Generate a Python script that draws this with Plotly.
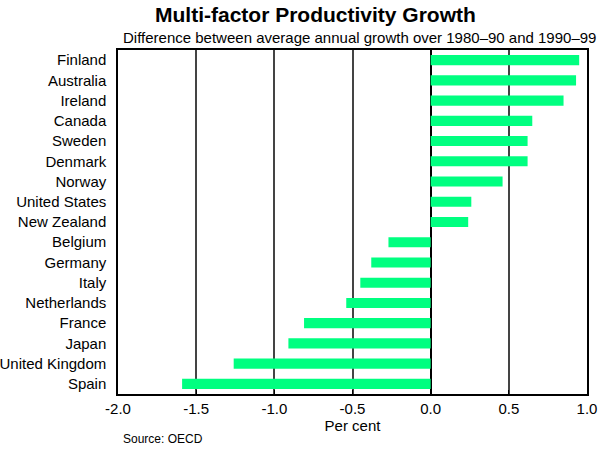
import plotly.graph_objects as go

countries = ["Finland", "Australia", "Ireland", "Canada", "Sweden", "Denmark",
             "Norway", "United States", "New Zealand", "Belgium", "Germany",
             "Italy", "Netherlands", "France", "Japan", "United Kingdom", "Spain"]
values = [0.95, 0.93, 0.85, 0.65, 0.62, 0.62, 0.46, 0.26, 0.24,
          -0.27, -0.38, -0.45, -0.54, -0.81, -0.91, -1.26, -1.59]
x_ticks = [-2.0, -1.5, -1.0, -0.5, 0.0, 0.5, 1.0]
x_tick_labels = ["-2.0", "-1.5", "-1.0", "-0.5", "0.0", "0.5", "1.0"]

FONT = "Liberation Sans, Arial, sans-serif"
W, H = 616, 451
L, R, T, B = 118, 29, 50, 57
PW, PH = W - L - R, H - T - B

fig = go.Figure(go.Bar(
    x=values, y=countries, orientation="h",
    marker=dict(color="#00FF80", line=dict(width=0)),
    width=0.5,
))

fig.update_layout(
    width=W, height=H,
    margin=dict(l=L, r=R, t=T, b=B, autoexpand=False),
    paper_bgcolor="white", plot_bgcolor="white",
    font=dict(family=FONT, size=15, color="black"),
    showlegend=False,
)

fig.update_xaxes(
    range=[-2.0, 1.0], tickvals=x_ticks, ticktext=x_tick_labels,
    showgrid=True, gridcolor="#444444", gridwidth=1.5,
    zeroline=True, zerolinecolor="black", zerolinewidth=2,
    showline=True, linecolor="black", linewidth=1.5, mirror=True,
    ticks="inside", ticklen=4, tickcolor="black",
    tickfont=dict(size=15), automargin=False,
    title=dict(text="Per cent", font=dict(size=15), standoff=2),
)
fig.update_yaxes(
    categoryorder="array", categoryarray=countries[::-1],
    range=[-0.5, len(countries) - 0.5],
    showgrid=False, zeroline=False,
    showline=True, linecolor="black", linewidth=1.5, mirror=True,
    ticks="", tickfont=dict(size=15), ticklabelstandoff=7, automargin=False,
)

fig.add_annotation(text="<b>Multi-factor Productivity Growth</b>", xref="paper", yref="paper",
                   x=(315 - L) / PW, xanchor="center", y=1 + (T - 14) / PH, yanchor="middle",
                   showarrow=False, font=dict(size=21, family=FONT))
fig.add_annotation(text="Difference between average annual growth over 1980\u201390 and 1990\u201399",
                   xref="paper", yref="paper", x=1 + (598 - (W - R)) / PW, xanchor="right",
                   y=1 + (T - 38) / PH, yanchor="middle",
                   showarrow=False, font=dict(size=15, family=FONT))
fig.add_annotation(text="Source: OECD", xref="paper", yref="paper",
                   x=(121 - L) / PW, xanchor="left", y=-(439 - (H - B)) / PH, yanchor="middle",
                   showarrow=False, font=dict(size=12, family=FONT))

fig.write_html("out.html", config={"displayModeBar": False},
               post_script="document.body.style.margin='0';document.body.style.overflow='hidden';")
